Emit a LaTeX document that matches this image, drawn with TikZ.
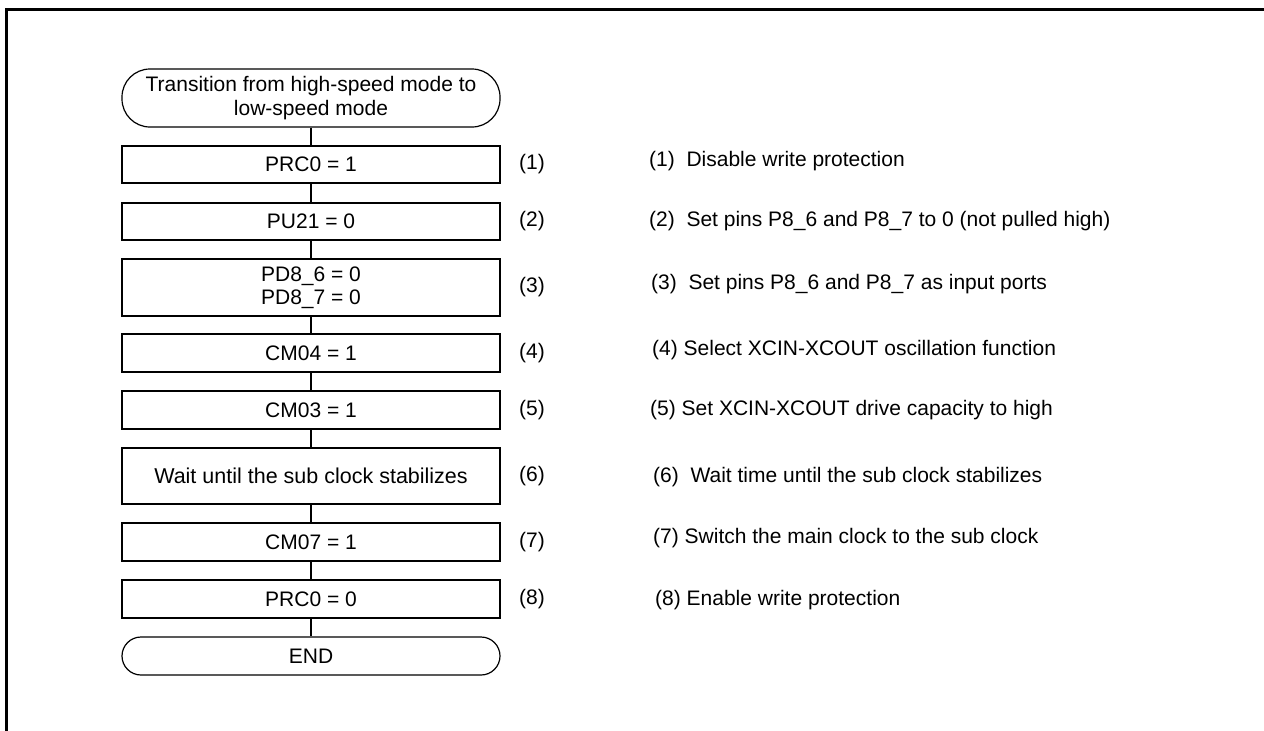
\documentclass[tikz,border=0pt]{standalone}
\usepackage{fontspec}
\setmainfont{Liberation Sans}
\begin{document}
\begin{tikzpicture}[x=1pt,y=1pt,
  every node/.style={font=\fontsize{21}{24}\selectfont, inner sep=0pt},
  stepbox/.style={draw, line width=1.2pt, minimum width=378pt, align=center},
  term/.style={draw, line width=1.2pt, minimum width=378pt, rounded corners=#1, align=center},
  link/.style={line width=1.2pt},
  numlabel/.style={anchor=center},
  note/.style={anchor=west}]
\useasboundingbox (0,0) rectangle (1264,-731);
\draw[line width=3pt] (6.5,-731) -- (6.5,-9.5) -- (1264,-9.5);

\node[term=28pt, minimum height=58pt] (start) at (311,-98) {Transition from high-speed mode to\\low-speed mode};
\node[stepbox, minimum height=37pt] (b1) at (311,-164.5) {PRC0 = 1};
\node[stepbox, minimum height=37pt] (b2) at (311,-221.5) {PU21 = 0};
\node[stepbox, minimum height=57pt, font=\fontsize{21}{23}\selectfont] (b3) at (311,-287.5) {PD8\_6 = 0\\PD8\_7 = 0};
\node[stepbox, minimum height=38pt] (b4) at (311,-353) {CM04 = 1};
\node[stepbox, minimum height=38pt] (b5) at (311,-410) {CM03 = 1};
\node[stepbox, minimum height=56pt, font=\fontsize{21.5}{24}\selectfont] (b6) at (311,-476) {Wait until the sub clock stabilizes};
\node[stepbox, minimum height=38pt] (b7) at (311,-542) {CM07 = 1};
\node[stepbox, minimum height=38pt] (b8) at (311,-599) {PRC0 = 0};
\node[term=19pt, minimum height=38pt] (end) at (311,-656) {END};

\draw[link] (start) -- (b1);
\draw[link] (b1) -- (b2);
\draw[link] (b2) -- (b3);
\draw[link] (b3) -- (b4);
\draw[link] (b4) -- (b5);
\draw[link] (b5) -- (b6);
\draw[link] (b6) -- (b7);
\draw[link] (b7) -- (b8);
\draw[link] (b8) -- (end);

\node[numlabel] (n1) at (532,-164.5) {(1)};
\node[numlabel] (n2) at (532,-221.5) {(2)};
\node[numlabel] (n3) at (532,-287.5) {(3)};
\node[numlabel] (n4) at (532,-353) {(4)};
\node[numlabel] (n5) at (532,-410) {(5)};
\node[numlabel] (n6) at (532,-476) {(6)};
\node[numlabel] (n7) at (532,-542) {(7)};
\node[numlabel] (n8) at (532,-599) {(8)};

\node[note] (t1) at (649,-161.5) {(1)\ \ Disable write protection};
\node[note] (t2) at (649,-221.5) {(2)\ \ Set pins P8\_6 and P8\_7 to 0 (not pulled high)};
\node[note] (t3) at (651,-284) {(3)\ \ Set pins P8\_6 and P8\_7 as input ports};
\node[note] (t4) at (652,-350) {(4) Select XCIN-XCOUT oscillation function};
\node[note] (t5) at (650,-410) {(5) Set XCIN-XCOUT drive capacity to high};
\node[note] (t6) at (653,-477) {(6)\ \ Wait time until the sub clock stabilizes};
\node[note] (t7) at (653,-538) {(7) Switch the main clock to the sub clock};
\node[note] (t8) at (655,-600) {(8) Enable write protection};
\end{tikzpicture}
\end{document}
